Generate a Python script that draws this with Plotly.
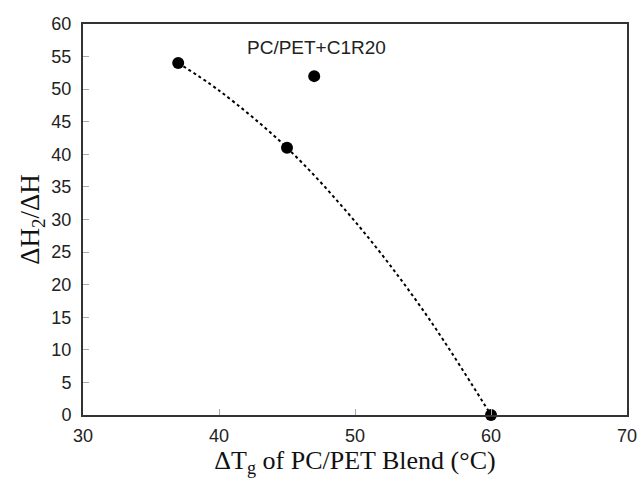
import plotly.graph_objects as go

# Data
blend_x = [37, 45, 60]
blend_y = [54, 41, 0]
c1r20_x = [47]
c1r20_y = [52]
# dotted trend curve
trend_x = [37, 40, 45, 50, 55, 60]
trend_y = [54, 49.8, 41, 29.7, 16.1, 0]
annot_text = "PC/PET+C1R20"
x_ticks = [30, 40, 50, 60, 70]
y_ticks = [0, 5, 10, 15, 20, 25, 30, 35, 40, 45, 50, 55, 60]

fig = go.Figure()
fig.add_trace(go.Scatter(
    x=trend_x, y=trend_y, mode="lines",
    line=dict(color="black", width=2, dash="dot", shape="spline", smoothing=1.0),
    showlegend=False, hoverinfo="skip", cliponaxis=False))
fig.add_trace(go.Scatter(
    x=blend_x, y=blend_y, mode="markers", cliponaxis=False,
    marker=dict(color="black", size=12), showlegend=False))
fig.add_trace(go.Scatter(
    x=c1r20_x, y=c1r20_y, mode="markers", cliponaxis=False,
    marker=dict(color="black", size=12), showlegend=False))

fig.add_annotation(x=47.2, y=56.4, text=annot_text, showarrow=False,
                   xref="x", yref="y",
                   font=dict(family="Liberation Sans, Arial", size=19, color="#222"))

axis_common = dict(showgrid=False, zeroline=False, showline=True, linecolor="#333",
                   linewidth=2, mirror=True, ticks="inside", tickcolor="#aaa",
                   ticklen=6, tickwidth=1, automargin=False,
                   tickfont=dict(family="Liberation Sans, Arial", size=18, color="#222"))

fig.update_xaxes(range=[30, 70], tickvals=x_ticks, ticktext=[str(v) for v in x_ticks],
                 ticklabelstandoff=3,
                 title=dict(text="ΔT<sub>g</sub> of PC/PET Blend (°C)",
                            font=dict(family="Liberation Serif, Times New Roman", size=26, color="#111"),
                            standoff=0),
                 **axis_common)
fig.update_yaxes(range=[0, 60], tickvals=y_ticks, ticktext=[str(v) for v in y_ticks],
                 ticklabelstandoff=6,
                 title=dict(text="ΔH<sub>2</sub>/ΔH",
                            font=dict(family="Liberation Serif, Times New Roman", size=27, color="#111"),
                            standoff=4),
                 **axis_common)

fig.update_layout(width=640, height=478, paper_bgcolor="white", plot_bgcolor="white",
                  margin=dict(l=83, r=13, t=24, b=63))
fig.write_html("out.html")
